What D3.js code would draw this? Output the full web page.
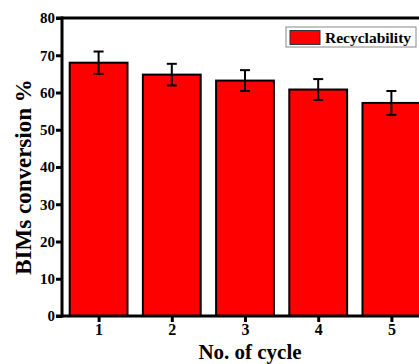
<!DOCTYPE html>
<html>
<head>
<meta charset="utf-8">
<script src="https://cdn.jsdelivr.net/npm/d3@7"></script>
<style>
  body { margin: 0; background: #fff; }
  text { font-family: "Liberation Serif", "Times New Roman", serif; font-weight: bold; }
</style>
</head>
<body>
<div id="chart"></div>
<script>
const cycles = [1, 2, 3, 4, 5];
const conversion = [68.0, 64.8, 63.2, 60.8, 57.2];
const errors = [3.0, 2.9, 2.8, 2.8, 3.2];
const yTicks = [0, 10, 20, 30, 40, 50, 60, 70, 80];

const width = 419;
const height = 364;
const margin = { top: 18, right: -9, bottom: 48, left: 62 };

const svg = d3
	.select("#chart")
	.append("svg")
	.attr("width", width)
	.attr("height", height);

const xScale = d3
	.scaleLinear()
	.domain([0.5, 5.5])
	.range([margin.left, width - margin.right]);

const yScale = d3
	.scaleLinear()
	.domain([0, 80])
	.range([height - margin.bottom, margin.top]);

const step = xScale(2) - xScale(1);
const barWidth = step * 0.79;

// bars
svg
	.selectAll(".bar")
	.data(cycles)
	.enter()
	.append("rect")
	.attr("class", "bar")
	.attr("x", (d) => xScale(d) - barWidth / 2)
	.attr("y", (d, i) => yScale(conversion[i]))
	.attr("width", barWidth)
	.attr("height", (d, i) => yScale(0) - yScale(conversion[i]))
	.attr("fill", "#ff0000")
	.attr("stroke", "black")
	.attr("stroke-width", 2);

// error bars
const err = svg
	.selectAll(".err")
	.data(cycles)
	.enter()
	.append("g")
	.attr("class", "err")
	.attr("stroke", "black")
	.attr("stroke-width", 2);

err
	.append("line")
	.attr("x1", (d) => xScale(d))
	.attr("x2", (d) => xScale(d))
	.attr("y1", (d, i) => yScale(conversion[i] + errors[i]))
	.attr("y2", (d, i) => yScale(conversion[i] - errors[i]));

err
	.append("line")
	.attr("x1", (d) => xScale(d) - 5)
	.attr("x2", (d) => xScale(d) + 5)
	.attr("y1", (d, i) => yScale(conversion[i] + errors[i]))
	.attr("y2", (d, i) => yScale(conversion[i] + errors[i]));

err
	.append("line")
	.attr("x1", (d) => xScale(d) - 5)
	.attr("x2", (d) => xScale(d) + 5)
	.attr("y1", (d, i) => yScale(conversion[i] - errors[i]))
	.attr("y2", (d, i) => yScale(conversion[i] - errors[i]));

// axes
const yAxis = svg
	.append("g")
	.attr("transform", `translate(${margin.left}, 0)`)
	.call(d3.axisLeft(yScale).tickValues(yTicks).tickSize(6).tickPadding(1));

const xAxis = svg
	.append("g")
	.attr("transform", `translate(0, ${yScale(0)})`)
	.call(d3.axisBottom(xScale).tickValues(cycles).tickSize(6).tickPadding(2).tickFormat(d3.format("d")));

[xAxis, yAxis].forEach((ax) => {
	ax.select(".domain").remove();
	ax.selectAll(".tick line").attr("stroke-width", 3);
	ax.selectAll(".tick text")
		.attr("fill", "black")
		.style("font-family", "Liberation Serif, serif")
		.style("font-weight", "bold");
});
yAxis.selectAll(".tick text").style("font-size", "15px");
xAxis.selectAll(".tick text").style("font-size", "16px");

// frame lines
svg.append("line")
	.attr("x1", margin.left - 6).attr("x2", width)
	.attr("y1", yScale(80)).attr("y2", yScale(80))
	.attr("stroke", "black").attr("stroke-width", 3);
svg.append("line")
	.attr("x1", margin.left - 6).attr("x2", width)
	.attr("y1", yScale(0)).attr("y2", yScale(0))
	.attr("stroke", "black").attr("stroke-width", 3);
svg.append("line")
	.attr("x1", margin.left).attr("x2", margin.left)
	.attr("y1", yScale(80) - 1.5).attr("y2", yScale(0) + 1.5)
	.attr("stroke", "black").attr("stroke-width", 3);

// legend
const legend = svg.append("g").attr("transform", "translate(286, 27)");
legend.append("rect")
	.attr("width", 130).attr("height", 20)
	.attr("fill", "white").attr("stroke", "#888").attr("stroke-width", 1);
legend.append("rect")
	.attr("x", 4).attr("y", 3.5).attr("width", 30).attr("height", 14)
	.attr("fill", "#ff0000").attr("stroke", "#333").attr("stroke-width", 1);
legend.append("text")
	.attr("x", 39).attr("y", 15.5)
	.style("font-size", "15.5px")
	.text("Recyclability");

// axis labels
svg.append("text")
	.attr("x", 250)
	.attr("y", 358.5)
	.attr("text-anchor", "middle")
	.style("font-size", "21px")
	.text("No. of cycle");

svg.append("text")
	.attr("transform", "translate(31, 177) rotate(-90)")
	.attr("text-anchor", "middle")
	.style("font-size", "23px")
	.text("BIMs conversion %");
</script>
</body>
</html>
